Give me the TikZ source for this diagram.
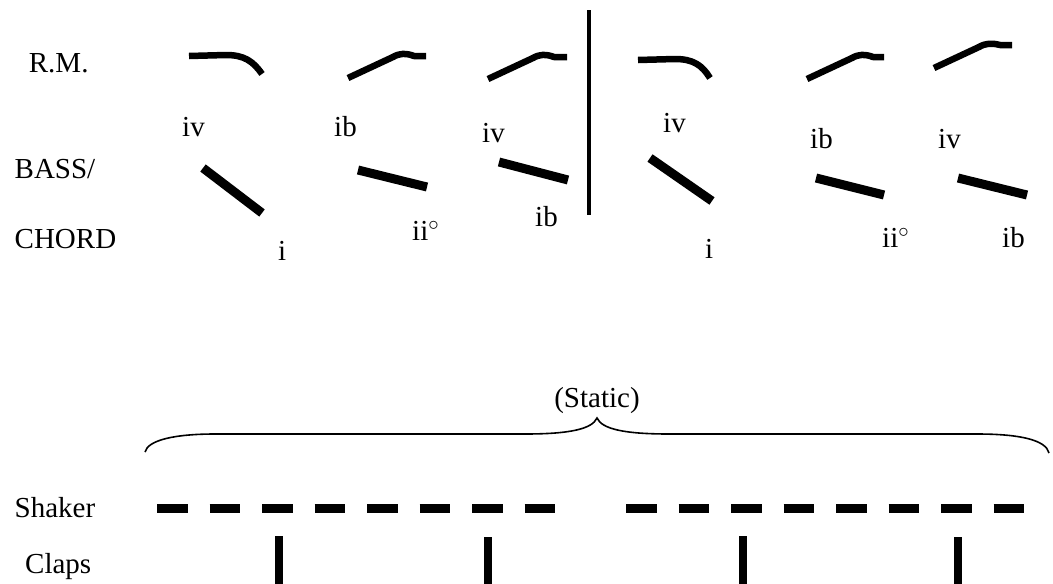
\documentclass[tikz,border=0pt]{standalone}
\usepackage{fontspec}
\setmainfont{Liberation Serif}
\begin{document}
\begin{tikzpicture}[x=1pt,y=-1pt,
  lbl/.style={anchor=base west, inner sep=0pt, font=\fontsize{29}{34}\selectfont},
  melody/.style={line width=6.5pt, line cap=butt, line join=round},
  bassline/.style={line width=9pt, line cap=butt},
  barline/.style={line width=3.5pt},
  brace/.style={line width=1.6pt},
  shakerline/.style={line width=9pt, line cap=butt, dash pattern=on 30.5pt off 22pt},
  clap/.style={line width=7.5pt, line cap=butt}]
\useasboundingbox (0,0) rectangle (1053,584);
% left labels
\node[lbl] (rm) at (28.7,72.7) {R.M.};
\node[lbl] (bass) at (14.5,178) {BASS/};
\node[lbl] (chord) at (14.5,248) {CHORD};
\node[lbl] (shaker) at (14.5,517) {Shaker};
\node[lbl] (claps) at (25,573) {Claps};
% melody contours
\draw[melody] (189,56) -- (226,55) .. controls (244,55) and (253,61) .. (262,74);
\draw[melody] (638,60) -- (675,59) .. controls (693,59) and (702,65) .. (710,78);
\draw[melody] (348,78) -- (393,57) .. controls (400,53) and (406,53) .. (414,56) -- (426,56);
\draw[melody] (488,79) -- (533,58) .. controls (540,54) and (546,54) .. (554,57) -- (567,57);
\draw[melody] (807,79) -- (852,58) .. controls (859,54) and (865,54) .. (873,57) -- (884,57);
\draw[melody] (934,68) -- (979,47) .. controls (986,43) and (992,43) .. (1000,45) -- (1012,45);
% bass strokes
\draw[bassline] (203,168) -- (262,213);
\draw[bassline] (358,170) -- (427,187);
\draw[bassline] (499,162) -- (568,180);
\draw[bassline] (650,158) -- (712,201);
\draw[bassline] (816,178) -- (884,195);
\draw[bassline] (958,178) -- (1027,195);
% bar line
\coordinate (bartop) at (589,10);
\coordinate (barbot) at (589,215);
\draw[barline] (bartop) -- (barbot);
% upper labels
\node[lbl] (u1) at (182,136) {iv};
\node[lbl] (u2) at (334,136) {ib};
\node[lbl] (u3) at (482,142) {iv};
\node[lbl] (u4) at (663,132) {iv};
\node[lbl] (u5) at (810,148) {ib};
\node[lbl] (u6) at (938,148) {iv};
% lower labels
\node[lbl] (l1) at (278,260) {i};
\node[lbl] (l2) at (412,240) {ii$^{\circ}$};
\node[lbl] (l3) at (535,226) {ib};
\node[lbl] (l4) at (705,258) {i};
\node[lbl] (l5) at (882,247) {ii$^{\circ}$};
\node[lbl] (l6) at (1002,247) {ib};
% static + brace
\node[lbl, anchor=base] (static) at (597,407) {(Static)};
\draw[brace] (145,452) .. controls (148,440) and (175,434) .. (215,434) -- (525,434)
  .. controls (570,434) and (592,429) .. (597,418)
  .. controls (602,429) and (624,434) .. (669,434) -- (977,434)
  .. controls (1020,434) and (1046,440) .. (1049,453);
% shaker
\coordinate (s1) at (157.2,508);
\coordinate (s2) at (556,508);
\coordinate (s3) at (626,508);
\coordinate (s4) at (1025,508);
\draw[shakerline] (s1) -- (s2);
\draw[shakerline] (s3) -- (s4);
% claps
\foreach \x/\t in {279/536,488/537,743/536,958/537}
  \draw[clap] (\x,\t) -- (\x,584);
\end{tikzpicture}
\end{document}
